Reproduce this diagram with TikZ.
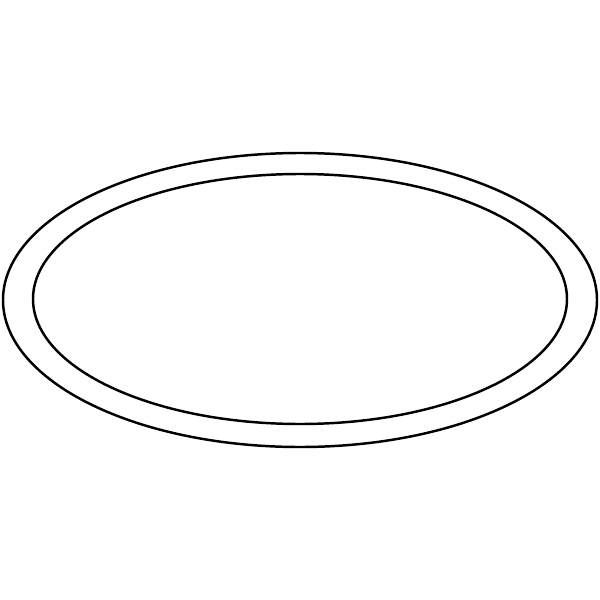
\documentclass[tikz,border=0pt]{standalone}
\begin{document}
\begin{tikzpicture}[x=0.01cm,y=-0.01cm,
  ring/.style={draw=black,line width=0.7pt}]
\useasboundingbox[fill=white] (0,0) rectangle (600,600);
\draw[ring] (300,300) ellipse [x radius=297, y radius=147];
\draw[ring] (300,299) ellipse [x radius=267, y radius=125];
\end{tikzpicture}
\end{document}
